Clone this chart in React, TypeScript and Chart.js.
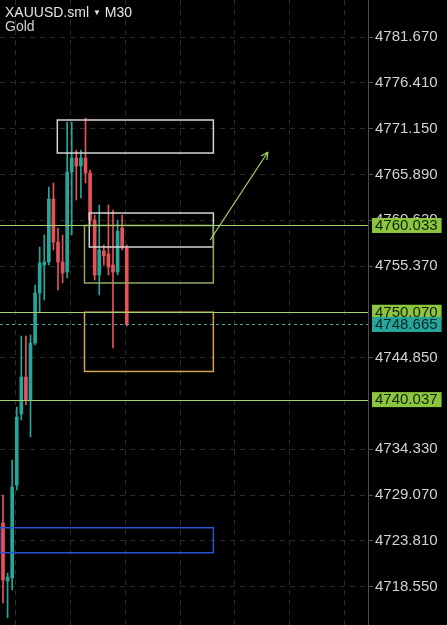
import React, { useEffect, useRef } from 'react';
import { Chart, registerables } from 'chart.js';

Chart.register(...registerables);

// ---- data (XAUUSD M30 candles) ----
const candleIdx = [0, 1, 2, 3, 4, 5, 6, 7, 8, 9, 10, 11, 12, 13, 14, 15, 16, 17, 18, 19, 20, 21, 22, 23, 24, 25, 26, 27];
const opens = [4725.87, 4719.21, 4719.56, 4730.23, 4738.39, 4742.63, 4739.99, 4746.54, 4752.28, 4755.49, 4755.84, 4763.07, 4758.13, 4755.84, 4754.69, 4766.17, 4767.78, 4766.86, 4767.78, 4766.06, 4760.66, 4754.35, 4757.10, 4756.76, 4755.49, 4754.69, 4759.74, 4757.45];
const highs = [4729.09, 4720.13, 4733.11, 4739.19, 4747.34, 4747.34, 4747.46, 4753.20, 4757.56, 4758.94, 4764.45, 4764.91, 4759.74, 4758.94, 4771.91, 4771.91, 4768.70, 4768.70, 4772.37, 4766.40, 4761.23, 4762.38, 4757.79, 4762.38, 4761.81, 4760.66, 4761.23, 4757.79];
const lows = [4716.69, 4715.00, 4718.18, 4729.66, 4737.70, 4739.42, 4735.75, 4746.31, 4750.10, 4751.47, 4755.49, 4757.22, 4752.62, 4753.43, 4754.00, 4758.94, 4762.96, 4763.19, 4764.91, 4760.09, 4753.77, 4752.05, 4755.49, 4754.35, 4745.96, 4754.35, 4757.22, 4748.49];
const closes = [4719.33, 4719.67, 4730.01, 4738.04, 4742.63, 4739.99, 4746.54, 4752.28, 4755.72, 4755.84, 4763.07, 4758.13, 4755.84, 4754.57, 4766.17, 4767.78, 4766.86, 4767.78, 4766.06, 4760.66, 4754.35, 4757.22, 4756.53, 4755.26, 4754.69, 4759.40, 4757.45, 4748.665];

// price axis tick labels
const yTicks = [4718.55, 4723.81, 4729.07, 4734.33, 4744.85, 4755.37, 4760.63, 4765.89, 4771.15, 4776.41, 4781.67];
// time grid positions (in candle index units)
const timeGridIdx = [2.62, 14.62, 26.62, 38.62, 50.62, 62.62, 74.62];

// horizontal levels
const levelPrices = [4760.033, 4750.07, 4740.037];
const currentPrice = 4748.665;

// drawn zones (index / price space)
const boxLeft = [11.85, 18.83, 17.78, 17.78, -0.7];
const boxRight = [45.9, 45.9, 45.9, 45.9, 45.9];
const boxTop = [4772.14, 4761.46, 4760.033, 4750.07, 4725.33];
const boxBottom = [4768.35, 4757.56, 4753.43, 4743.27, 4722.46];

// arrow (index, price)
const arrowFrom = [45.2, 4758.36];
const arrowTo = [57.8, 4768.47];

// view ranges
const xMin = -0.655;
const xMax = 79.64;
const yMin = 4714.162;
const yMax = 4785.918;

// ---- styles ----
const UP = '#26a69a';
const DOWN = '#e5535a';
const boxColors = ['#d4d4d4', '#d4d4d4', '#8fa862', '#d3a64e', '#2d52d2'];
const LEVEL = '#a4d36e';
const LEVEL_BG = '#8cc63f';
const CUR = '#5f9ea0';
const CUR_BG = '#26a69a';
const FONT = '"Liberation Sans", Arial, sans-serif';

const overlayPlugin = {
  id: 'overlay',
  afterDatasetsDraw(chart: any) {
    const { ctx, chartArea, scales } = chart;
    const x = scales.x;
    const y = scales.y;
    ctx.save();
    ctx.beginPath();
    ctx.rect(chartArea.left, chartArea.top, chartArea.right - chartArea.left, chartArea.bottom - chartArea.top);
    ctx.clip();

    // boxes
    ctx.lineWidth = 1.5;
    for (let i = 0; i < boxLeft.length; i++) {
      const x0 = x.getPixelForValue(boxLeft[i]);
      const x1 = x.getPixelForValue(boxRight[i]);
      const y0 = y.getPixelForValue(boxTop[i]);
      const y1 = y.getPixelForValue(boxBottom[i]);
      ctx.strokeStyle = boxColors[i];
      ctx.strokeRect(x0, y0, x1 - x0, y1 - y0);
    }

    // level lines
    ctx.lineWidth = 1;
    ctx.strokeStyle = LEVEL;
    levelPrices.forEach((p) => {
      const py = Math.round(y.getPixelForValue(p)) + 0.5;
      ctx.beginPath();
      ctx.moveTo(chartArea.left, py);
      ctx.lineTo(chartArea.right, py);
      ctx.stroke();
    });

    // current price dotted
    ctx.strokeStyle = CUR;
    ctx.setLineDash([3, 3]);
    const cy = Math.round(y.getPixelForValue(currentPrice)) + 0.5;
    ctx.beginPath();
    ctx.moveTo(chartArea.left, cy);
    ctx.lineTo(chartArea.right, cy);
    ctx.stroke();
    ctx.setLineDash([]);

    // arrow
    const ax0 = x.getPixelForValue(arrowFrom[0]);
    const ay0 = y.getPixelForValue(arrowFrom[1]);
    const ax1 = x.getPixelForValue(arrowTo[0]);
    const ay1 = y.getPixelForValue(arrowTo[1]);
    ctx.strokeStyle = LEVEL;
    ctx.lineWidth = 1.2;
    ctx.beginPath();
    ctx.moveTo(ax0, ay0);
    ctx.lineTo(ax1, ay1);
    const ang = Math.atan2(ay1 - ay0, ax1 - ax0);
    const hl = 8;
    ctx.moveTo(ax1, ay1);
    ctx.lineTo(ax1 - hl * Math.cos(ang - 0.45), ay1 - hl * Math.sin(ang - 0.45));
    ctx.moveTo(ax1, ay1);
    ctx.lineTo(ax1 - hl * Math.cos(ang + 0.45), ay1 - hl * Math.sin(ang + 0.45));
    ctx.stroke();
    ctx.restore();
  },
  afterDraw(chart: any) {
    const { ctx, chartArea, scales } = chart;
    const y = scales.y;
    ctx.save();
    ctx.font = '15px ' + FONT;
    ctx.textBaseline = 'middle';
    ctx.textAlign = 'left';
    const lx = chartArea.right + 4;
    const drawLabel = (p: number, bg: string, fg: string) => {
      const py = y.getPixelForValue(p);
      const txt = p.toFixed(3);
      const w = ctx.measureText(txt).width + 7;
      ctx.fillStyle = bg;
      ctx.fillRect(lx, py - 7.5, w, 15);
      ctx.fillStyle = fg;
      ctx.fillText(txt, lx + 3, py + 0.5);
    };
    levelPrices.forEach((p) => drawLabel(p, LEVEL_BG, '#14200c'));
    drawLabel(currentPrice, CUR_BG, '#0b2523');
    ctx.restore();
  },
};

export default function App() {
  const ref = useRef<HTMLCanvasElement>(null);

  useEffect(() => {
    document.body.style.margin = '0';
    document.body.style.background = '#000';
    const canvas = ref.current;
    if (!canvas) return;
    const colors = candleIdx.map((i) => (closes[i] >= opens[i] ? UP : DOWN));
    const chart = new Chart(canvas, {
      type: 'bar',
      data: {
        datasets: [
          {
            label: 'body',
            data: candleIdx.map((i) => ({ x: i, y: [opens[i], closes[i]] })) as any,
            backgroundColor: colors,
            borderWidth: 0,
            barThickness: 3,
            grouped: false,
          } as any,
          {
            label: 'wick',
            data: candleIdx.map((i) => ({ x: i, y: [lows[i], highs[i]] })) as any,
            backgroundColor: colors,
            borderWidth: 0,
            barThickness: 1,
            grouped: false,
          } as any,
        ],
      },
      options: {
        responsive: false,
        animation: false,
        devicePixelRatio: 1,
        layout: { padding: 0 },
        plugins: { legend: { display: false }, tooltip: { enabled: false } },
        scales: {
          x: {
            type: 'linear',
            min: xMin,
            max: xMax,
            offset: false,
            grid: { color: '#2c2c2c', drawTicks: false, offset: false },
            border: { display: false, dash: [5, 5] },
            ticks: { display: false },
            afterBuildTicks: (s: any) => {
              s.ticks = timeGridIdx.map((v) => ({ value: v }));
            },
            afterFit: (s: any) => {
              s.height = 0;
              s.paddingLeft = 0;
              s.paddingRight = 0;
            },
          } as any,
          y: {
            type: 'linear',
            position: 'right',
            min: yMin,
            max: yMax,
            grid: { color: '#2c2c2c', tickColor: '#555', tickLength: 5, drawTicks: true },
            border: { display: true, color: '#4a4a4a', width: 1, dash: [5, 5] },
            ticks: {
              color: '#d2d2d2',
              font: { family: FONT, size: 15 },
              padding: 2,
              autoSkip: false,
              callback: (v: any) => Number(v).toFixed(3),
            },
            afterBuildTicks: (s: any) => {
              s.ticks = yTicks.map((v) => ({ value: v }));
            },
            afterFit: (s: any) => {
              s.width = 79;
              s.paddingTop = 0;
              s.paddingBottom = 0;
            },
          } as any,
        },
      },
      plugins: [overlayPlugin],
    });
    return () => chart.destroy();
  }, []);

  return (
    <div style={{ position: 'fixed', left: 0, top: 0, width: 447, height: 625, background: '#000', overflow: 'hidden' }}>
      <canvas ref={ref} width={447} height={625} style={{ display: 'block' }} />
      <div style={{ position: 'absolute', left: 5, top: 4, font: '14px ' + FONT, lineHeight: '16px', color: '#e6e6e6', whiteSpace: 'nowrap' }}>
        XAUUSD.sml <span style={{ fontSize: 8, verticalAlign: 2 }}>▼</span> M30
      </div>
      <div style={{ position: 'absolute', left: 5, top: 18, font: '14px ' + FONT, lineHeight: '16px', color: '#d0d0d0' }}>Gold</div>
    </div>
  );
}
